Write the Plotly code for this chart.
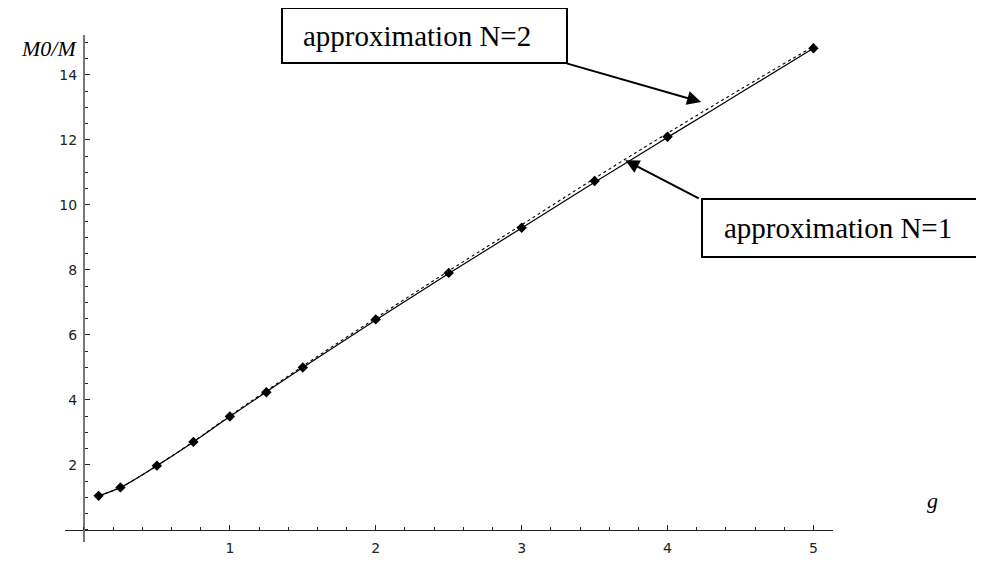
import plotly.graph_objects as go

# ---- data ----
g_points = [0.1, 0.25, 0.5, 0.75, 1.0, 1.25, 1.5, 2.0, 2.5, 3.0, 3.5, 4.0, 5.0]
m_points = [1.05, 1.31, 1.98, 2.71, 3.49, 4.24, 5.0, 6.48, 7.91, 9.30, 10.74, 12.1, 14.82]
m_err = [0.1, 0.1, 0.1, 0.1, 0.1, 0.1, 0.1, 0.1, 0.12, 0.1, 0.14, 0.14, 0.14]

g_curve = [0.1, 0.25, 0.5, 0.75, 1.0, 1.5, 2.0, 2.5, 3.0, 3.5, 4.0, 4.5, 5.0]
m_n1 = [1.05, 1.31, 1.98, 2.71, 3.49, 5.0, 6.46, 7.89, 9.29, 10.70, 12.08, 13.45, 14.82]
m_n2 = [1.05, 1.31, 1.98, 2.72, 3.51, 5.04, 6.52, 7.97, 9.39, 10.82, 12.21, 13.56, 14.88]

x_ticks = [1, 2, 3, 4, 5]
y_ticks = [2, 4, 6, 8, 10, 12, 14]
label_n1 = "approximation N=1"
label_n2 = "approximation N=2"
x_title = "g"
y_title = "M0/M"

# ---- layout geometry (page pixels; page body has an 8px margin) ----
OFF = 8
W, H = 976, 555
ML, MT = 65 - OFF, 35 - OFF
PW, PH = 768, 507
MR = W - ML - PW
MB = H - MT - PH
XR = [-0.13, 5.134]
YR = [-0.37, 15.23]


def px(xp):
    return (xp - OFF - ML) / PW


def py(yp):
    return (MT + PH - (yp - OFF)) / PH


fig = go.Figure()
fig.add_trace(go.Scatter(x=g_curve, y=m_n2, mode="lines", line_shape="spline",
                         line=dict(color="black", width=1.1, dash="dot"),
                         showlegend=False, hoverinfo="skip"))
fig.add_trace(go.Scatter(x=g_curve, y=m_n1, mode="lines", line_shape="spline",
                         line=dict(color="black", width=1.2),
                         showlegend=False, hoverinfo="skip"))
fig.add_trace(go.Scatter(x=g_points, y=m_points, mode="markers",
                         marker=dict(symbol="diamond", size=8, color="black"),
                         error_y=dict(type="data", array=m_err, color="black",
                                      thickness=1.5, width=0),
                         showlegend=False))

x0_pos = (0 - YR[0]) / (YR[1] - YR[0])
y0_pos = (0 - XR[0]) / (XR[1] - XR[0])

fig.update_layout(
    template="none",
    width=W, height=H,
    margin=dict(l=ML, r=MR, t=MT, b=MB, pad=0),
    paper_bgcolor="white", plot_bgcolor="white",
    xaxis=dict(range=XR, anchor="free", position=x0_pos, showgrid=False,
               automargin=False,
               zeroline=False, showline=True, linecolor="#222", linewidth=1,
               tickmode="array", tickvals=x_ticks, ticks="inside", ticklen=5,
               tickcolor="#222", tickwidth=1,
               minor=dict(dtick=0.2, tick0=0, ticks="inside", ticklen=3,
                          tickcolor="#222", showgrid=False),
               tickfont=dict(family="DejaVu Sans", size=14, color="#222"),
               ticklabelstandoff=5),
    yaxis=dict(range=YR, anchor="free", position=y0_pos, showgrid=False,
               automargin=False,
               zeroline=False, showline=True, linecolor="#777", linewidth=2,
               tickmode="array", tickvals=y_ticks, ticks="inside", ticklen=5,
               tickcolor="#222", tickwidth=1,
               minor=dict(dtick=0.5, tick0=0, ticks="inside", ticklen=3,
                          tickcolor="#222", showgrid=False),
               tickfont=dict(family="DejaVu Sans", size=14, color="#222"),
               ticklabelstandoff=3),
)

serif = "Liberation Serif"
# boxes
fig.add_shape(type="rect", xref="paper", yref="paper",
              x0=px(282), x1=px(567), y0=py(63), y1=py(8),
              line=dict(color="black", width=2), fillcolor="white")
fig.add_shape(type="rect", xref="paper", yref="paper",
              x0=px(702), x1=px(1000), y0=py(257), y1=py(199),
              line=dict(color="black", width=2), fillcolor="white")

fig.add_annotation(xref="paper", yref="paper", x=px(301), y=py(36),
                   xanchor="left", yanchor="middle", text=label_n2,
                   showarrow=False, font=dict(family=serif, size=29, color="black"))
fig.add_annotation(xref="paper", yref="paper", x=px(722), y=py(228),
                   xanchor="left", yanchor="middle", text=label_n1,
                   showarrow=False, font=dict(family=serif, size=29, color="black"))

# arrows
fig.add_annotation(x=4.23, y=13.17, xref="x", yref="y", text="",
                   showarrow=True, ax=-136, ay=-39, arrowhead=2,
                   arrowsize=1.4, arrowwidth=2, arrowcolor="black", standoff=0)
fig.add_annotation(x=3.71, y=11.38, xref="x", yref="y", text="",
                   showarrow=True, ax=75, ay=39, arrowhead=2,
                   arrowsize=1.4, arrowwidth=2, arrowcolor="black", standoff=0)

# axis titles
fig.add_annotation(xref="paper", yref="paper", x=px(79), y=py(48),
                   xanchor="right", yanchor="middle", text=y_title,
                   showarrow=False,
                   font=dict(family=serif, size=22, color="black", style="italic"))
fig.add_annotation(xref="paper", yref="paper", x=px(932), y=py(500),
                   xanchor="center", yanchor="middle", text=x_title,
                   showarrow=False,
                   font=dict(family=serif, size=22, color="black", style="italic"))

fig.write_html("out.html")
